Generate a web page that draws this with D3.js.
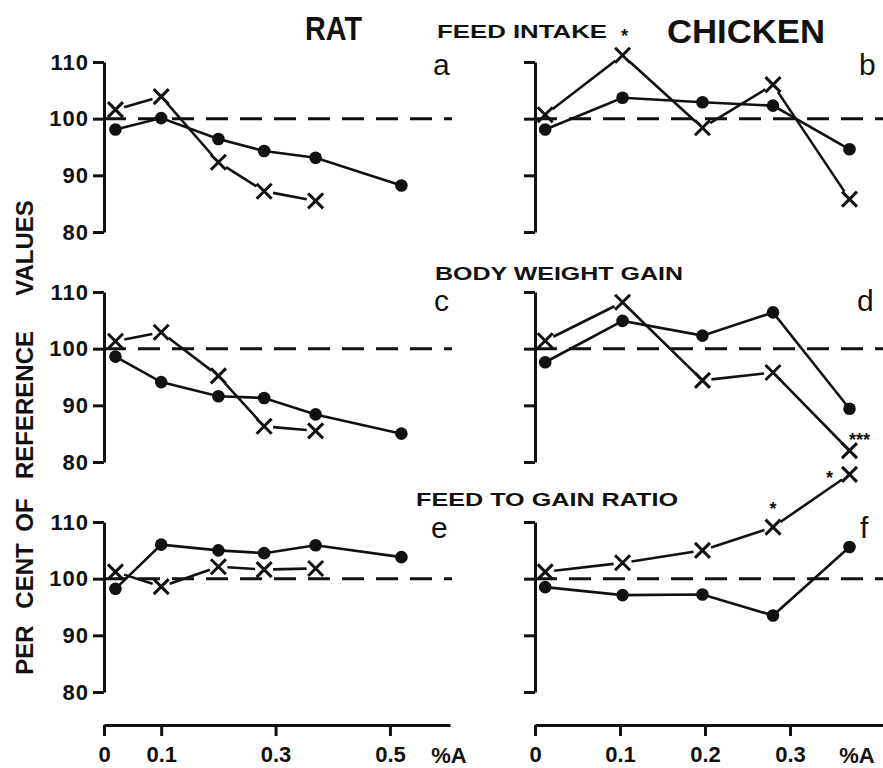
<!DOCTYPE html>
<html>
<head>
<meta charset="utf-8">
<script src="https://cdn.jsdelivr.net/npm/d3@7"></script>
<style>
  html, body { margin: 0; padding: 0; background: #fff; }
  svg { display: block; }
  text { font-family: "Liberation Sans", Arial, Helvetica, sans-serif; fill: #111; }
</style>
</head>
<body>
<svg id="chart" width="883" height="768"></svg>
<script>
// Dietary level of compound A (%)
const ratDose = [0.02, 0.1, 0.2, 0.28, 0.37, 0.52];
const chickenDose = [0.012, 0.103, 0.197, 0.28, 0.37];

// Per cent of reference values — filled circles (●) and crosses (×)
const ratFeedDot = [98.1, 100.1, 96.4, 94.3, 93.1, 88.2];
const ratFeedCross = [101.6, 103.9, 92.3, 87.2, 85.5];
const ratGainDot = [98.6, 94.1, 91.6, 91.3, 88.4, 85.0];
const ratGainCross = [101.3, 102.9, 95.2, 86.3, 85.5];
const ratRatioDot = [98.2, 106.0, 105.0, 104.5, 105.9, 103.8];
const ratRatioCross = [101.2, 98.6, 102.1, 101.6, 101.8];

const chickFeedDot = [98.1, 103.7, 102.9, 102.3, 94.6];
const chickFeedCross = [100.7, 111.2, 98.4, 106.0, 85.8];
const chickGainDot = [97.6, 104.9, 102.3, 106.4, 89.4];
const chickGainCross = [101.4, 108.2, 94.4, 95.8, 82.0];
const chickRatioDot = [98.5, 97.1, 97.2, 93.5, 105.6];
const chickRatioCross = [101.2, 102.8, 105.0, 109.1, 118.4];

const yTicks = [80, 90, 100, 110];
const ratXTicks = [0, 0.1, 0.3, 0.5];
const chickXTicks = [0, 0.1, 0.2, 0.3];
const rowTitles = ["FEED INTAKE", "BODY WEIGHT GAIN", "FEED TO GAIN RATIO"];
const panelLetters = [["a", "b"], ["c", "d"], ["e", "f"]];
const yLabelWords = ["PER", "CENT", "OF", "REFERENCE", "VALUES"];

// significance marks: [column, row, cross index, text]
const stars = [
  [1, 0, 1, "*"],
  [1, 1, 4, "***"],
  [1, 2, 3, "*"],
  [1, 2, 4, "*"]
];

const svg = d3.select("#chart");

const rowTop = [62, 292, 522];
const rowH = 170;
const xAxisY = 725;

const xRat = d3.scaleLinear().domain([0, 0.605]).range([104, 450]);
const xChick = d3.scaleLinear().domain([0, 0.41]).range([535, 883.5]);

const columns = [
  { x: xRat, dose: ratDose, dashEnd: 452,
    rows: [[ratFeedDot, ratFeedCross], [ratGainDot, ratGainCross], [ratRatioDot, ratRatioCross]] },
  { x: xChick, dose: chickenDose, dashEnd: 883,
    rows: [[chickFeedDot, chickFeedCross], [chickGainDot, chickGainCross], [chickRatioDot, chickRatioCross]] }
];

const line = d3.line().x(d => d[0]).y(d => d[1]);

columns.forEach((col, ci) => {
  col.rows.forEach((series, ri) => {
    const y = d3.scaleLinear().domain([80, 110]).range([rowTop[ri] + rowH, rowTop[ri]]);
    const x0 = col.x(0);
    const g = svg.append("g");

    // y axis
    const axis = d3.axisLeft(y).tickValues(yTicks).tickSize(11).tickSizeOuter(0).tickPadding(4);
    if (ci === 1) axis.tickFormat("");
    const ag = g.append("g").attr("transform", `translate(${x0},0)`).call(axis);
    ag.select(".domain").attr("stroke", "#111").attr("stroke-width", 3);
    ag.selectAll(".tick line").attr("stroke", "#111").attr("stroke-width", 3);
    ag.selectAll(".tick text")
      .style("font-size", "22px").style("font-weight", "bold")
      .attr("fill", "#111").style("letter-spacing", "1px");

    // reference line at 100 %
    g.append("line")
      .attr("x1", x0).attr("x2", col.dashEnd)
      .attr("y1", y(100)).attr("y2", y(100))
      .attr("stroke", "#111").attr("stroke-width", 3)
      .attr("stroke-dasharray", "22,12");

    const [dots, crosses] = series;
    const dotPts = dots.map((v, i) => [col.x(col.dose[i]), y(v)]);
    const crossPts = crosses.map((v, i) => [col.x(col.dose[i]), y(v)]);

    // circle series: continuous line
    g.append("path").attr("d", line(dotPts))
      .attr("fill", "none").attr("stroke", "#111").attr("stroke-width", 2.6);

    // cross series: segments stop short of each marker
    const gap = 9;
    d3.pairs(crossPts).forEach(([a, b]) => {
      const dx = b[0] - a[0], dy = b[1] - a[1];
      const len = Math.hypot(dx, dy);
      const ux = dx / len, uy = dy / len;
      g.append("path")
        .attr("d", line([[a[0] + ux * gap, a[1] + uy * gap], [b[0] - ux * gap, b[1] - uy * gap]]))
        .attr("fill", "none").attr("stroke", "#111").attr("stroke-width", 2.6);
    });

    g.selectAll(".dot").data(dotPts).join("circle")
      .attr("cx", d => d[0]).attr("cy", d => d[1]).attr("r", 6.3).attr("fill", "#111");

    const s = 7.5;
    g.selectAll(".cross").data(crossPts).join("path")
      .attr("d", d => `M${d[0] - s},${d[1] - s}L${d[0] + s},${d[1] + s}M${d[0] - s},${d[1] + s}L${d[0] + s},${d[1] - s}`)
      .attr("stroke", "#111").attr("stroke-width", 3).attr("fill", "none");

    // significance marks
    stars.filter(st => st[0] === ci && st[1] === ri).forEach(st => {
      const p = crossPts[st[2]];
      let tx = p[0], ty = p[1] - 12;
      if (st[3] === "***") { tx = p[0] + 10; ty = p[1] - 5; }
      if (ri === 2 && st[2] === 4) { tx = p[0] - 20; ty = p[1] + 10; }
      if (ri === 0) { tx = p[0] + 2; ty = p[1] - 13; }
      svg.append("text").attr("x", tx).attr("y", ty)
        .attr("text-anchor", "middle")
        .style("font-size", "18px").style("font-weight", "bold")
        .text(st[3]);
    });
  });

  // x axis
  const xa = d3.axisBottom(col.x)
    .tickValues(ci === 0 ? ratXTicks : chickXTicks)
    .tickSize(11).tickSizeOuter(0).tickPadding(10)
    .tickFormat(d => d === 0 ? "0" : d3.format(".1f")(d));
  const xg = svg.append("g").attr("transform", `translate(0,${xAxisY})`).call(xa);
  xg.select(".domain").attr("stroke", "#111").attr("stroke-width", 3);
  xg.selectAll(".tick line").attr("stroke", "#111").attr("stroke-width", 3);
  xg.selectAll(".tick text")
    .style("font-size", "22px").style("font-weight", "bold").attr("fill", "#111");
  svg.append("text")
    .attr("x", ci === 0 ? 449 : 857).attr("y", 763)
    .attr("text-anchor", "middle")
    .style("font-size", "22px").style("font-weight", "bold")
    .text("%A");
});

// species headers
svg.append("text").attr("x", 305).attr("y", 40)
  .attr("textLength", 57).attr("lengthAdjust", "spacingAndGlyphs")
  .style("font-size", "34px").style("font-weight", "bold").text("RAT");
svg.append("text").attr("x", 667).attr("y", 43)
  .attr("textLength", 158).attr("lengthAdjust", "spacingAndGlyphs")
  .style("font-size", "34px").style("font-weight", "bold").text("CHICKEN");

// row titles
const titlePos = [[437, 38, 170], [435, 280, 248], [416, 506, 262]];
rowTitles.forEach((t, i) => {
  svg.append("text").attr("x", titlePos[i][0]).attr("y", titlePos[i][1])
    .attr("textLength", titlePos[i][2]).attr("lengthAdjust", "spacingAndGlyphs")
    .style("font-size", "18px").style("font-weight", "bold").text(t);
});

// panel letters
const letterPos = [[[433, 75], [859, 75]], [[434, 311], [857, 311]], [[431, 538], [860, 538]]];
panelLetters.forEach((pair, ri) => pair.forEach((l, ci) => {
  svg.append("text").attr("x", letterPos[ri][ci][0]).attr("y", letterPos[ri][ci][1])
    .style("font-size", "30px").text(l);
}));

// y axis title, word by word (rotated)
const wordCenters = [650, 576, 515, 405, 248];
yLabelWords.forEach((w, i) => {
  svg.append("text")
    .attr("transform", `translate(33,${wordCenters[i]}) rotate(-90)`)
    .attr("text-anchor", "middle")
    .style("font-size", "24px").style("font-weight", "bold")
    .text(w);
});
</script>
</body>
</html>
